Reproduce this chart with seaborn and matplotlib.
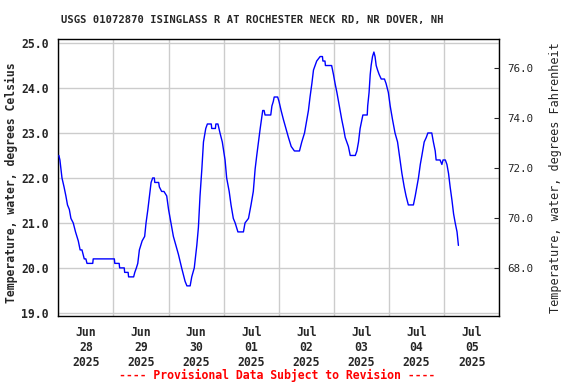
import numpy as np
import pandas as pd
import matplotlib
matplotlib.use("Agg")
import matplotlib.pyplot as plt
import matplotlib.dates as mdates
from matplotlib.ticker import FixedLocator, FormatStrFormatter
import seaborn as sns

# hours since 2025-06-28 00:00 and water temperature (deg C)
hours = [0.25, 0.7, 1.6, 2.5, 3.3, 4.0, 4.8, 5.5, 6.5, 7.5, 8.7, 9.5, 10.3, 11.3, 12.0, 12.5,
         15.0, 15.2, 24.4, 24.6, 26.5, 26.7, 28.7, 28.9, 30.4, 30.6, 32.8, 33.3, 34.0, 34.6,
         35.3, 36.5, 37.6, 38.2, 39.0, 39.7, 40.4, 41.1, 41.8, 42.0, 43.7, 44.0, 45.0, 46.0,
         47.2, 48.0, 48.7, 50.1, 52.3, 53.7, 55.2, 56.0, 57.4, 58.1, 59.2, 60.3, 61.0, 61.7,
         62.5, 63.2, 64.2, 64.9, 66.6, 66.8, 68.4, 68.6, 69.5, 70.4, 71.4, 72.6, 73.3, 74.4,
         75.2, 76.2, 77.0, 78.2, 80.6, 81.3, 82.8, 83.9, 84.9, 85.7, 86.4, 87.9, 89.0, 89.6,
         90.0, 92.5, 93.0, 93.6, 94.0, 95.5, 96.1, 97.0, 98.0, 99.1, 100.2, 101.4, 102.8, 105.0,
         106.0, 107.2, 108.2, 108.9, 109.6, 110.4, 111.1, 111.8, 112.5, 114.0, 115.0, 115.2,
         116.1, 116.3, 119.0, 119.8, 120.5, 121.3, 122.0, 122.7, 123.4, 124.2, 124.9, 125.6,
         126.3, 127.1, 129.3, 130.0, 130.7, 131.4, 132.2, 132.6, 134.5, 134.7, 135.3, 135.8,
         136.2, 136.8, 137.4, 137.9, 138.4, 139.0, 139.7, 140.6, 142.0, 142.7, 143.7, 144.5,
         145.5, 146.6, 147.7, 148.5, 149.6, 150.6, 151.4, 152.4, 154.6, 155.4, 156.1, 156.8,
         157.6, 158.3, 159.3, 160.2, 160.9, 162.6, 163.3, 164.1, 164.5, 166.2, 167.0, 167.5,
         168.5, 169.2, 169.9, 170.6, 171.4, 172.1, 172.8, 173.6, 174.2]
temps = [22.5, 22.4, 22.0, 21.8, 21.6, 21.4, 21.3, 21.1, 21.0, 20.8, 20.6, 20.4, 20.4, 20.2, 20.2, 20.1,
         20.1, 20.2, 20.2, 20.1, 20.1, 20.0, 20.0, 19.9, 19.9, 19.8, 19.8, 19.9, 20.0, 20.1,
         20.4, 20.6, 20.7, 21.0, 21.3, 21.6, 21.9, 22.0, 22.0, 21.9, 21.9, 21.8, 21.7, 21.7,
         21.6, 21.3, 21.1, 20.7, 20.3, 20.0, 19.7, 19.6, 19.6, 19.8, 20.0, 20.5, 20.9, 21.6,
         22.2, 22.8, 23.1, 23.2, 23.2, 23.1, 23.1, 23.2, 23.2, 23.0, 22.8, 22.4, 22.0, 21.7,
         21.4, 21.1, 21.0, 20.8, 20.8, 21.0, 21.1, 21.4, 21.7, 22.2, 22.5, 23.1, 23.5, 23.5,
         23.4, 23.4, 23.6, 23.7, 23.8, 23.8, 23.7, 23.5, 23.3, 23.1, 22.9, 22.7, 22.6, 22.6,
         22.8, 23.0, 23.3, 23.5, 23.8, 24.1, 24.4, 24.5, 24.6, 24.7, 24.7, 24.6,
         24.6, 24.5, 24.5, 24.3, 24.1, 23.9, 23.7, 23.5, 23.3, 23.1, 22.9, 22.8,
         22.7, 22.5, 22.5, 22.6, 22.8, 23.1, 23.3, 23.4, 23.4, 23.6, 23.9, 24.3,
         24.5, 24.7, 24.8, 24.7, 24.5, 24.4, 24.3, 24.2, 24.2, 24.1, 23.9, 23.6,
         23.3, 23.0, 22.8, 22.5, 22.1, 21.8, 21.6, 21.4, 21.4, 21.6, 21.8, 22.0,
         22.3, 22.5, 22.8, 22.9, 23.0, 23.0, 22.8, 22.6, 22.4, 22.4, 22.3, 22.4,
         22.4, 22.3, 22.1, 21.8, 21.5, 21.2, 21.0, 20.8, 20.5]

c_ticks = [19.0, 20.0, 21.0, 22.0, 23.0, 24.0, 25.0]
f_ticks = [68.0, 70.0, 72.0, 74.0, 76.0]

title = "USGS 01072870 ISINGLASS R AT ROCHESTER NECK RD, NR DOVER, NH"
footer = "---- Provisional Data Subject to Revision ----"

start = pd.Timestamp("2025-06-28 00:00")
df = pd.DataFrame({"time": start + pd.to_timedelta(hours, unit="h"), "temp": temps})

sns.set_style("white")
plt.rcParams['font.family'] = ['DejaVu Sans Mono', 'DejaVu Sans']

fig = plt.figure(figsize=(5.76, 3.84), dpi=100)
ax = fig.add_axes([58.3 / 576, 1 - 316 / 384, (499.3 - 58.3) / 576, (316 - 39) / 384])

sns.lineplot(data=df, x="time", y="temp", color="#0000ff", lw=1.0, ax=ax, zorder=3)

ymin, ymax = 18.93, 25.09
ax.set_ylim(ymin, ymax)
ax.set_xlim(start, start + pd.Timedelta(days=8))

# x: labels at noon, grid at midnight
ax.xaxis.set_major_locator(mdates.HourLocator(byhour=12))
ax.xaxis.set_major_formatter(mdates.DateFormatter("%b\n%d\n%Y"))
ax.xaxis.set_minor_locator(mdates.DayLocator())
ax.tick_params(axis="x", which="both", length=0, pad=7, labelsize=8.3)
ax.grid(True, axis="x", which="minor", color="#cccccc", lw=1)
ax.grid(False, axis="x", which="major")

ax.yaxis.set_major_locator(FixedLocator(c_ticks))
ax.yaxis.set_major_formatter(FormatStrFormatter("%.1f"))
ax.tick_params(axis="y", length=0, pad=7, labelsize=8.3)
ax.grid(True, axis="y", color="#cccccc", lw=1)
for lab in ax.get_xticklabels() + ax.get_yticklabels():
    lab.set_fontweight("bold")
ax.set_xlabel("")
ax.set_ylabel("")

for s in ax.spines.values():
    s.set_color("black")
    s.set_linewidth(1)

ax2 = ax.twinx()
ax2.set_ylim(ymin * 1.8 + 32, ymax * 1.8 + 32)
ax2.yaxis.set_major_locator(FixedLocator(f_ticks))
ax2.yaxis.set_major_formatter(FormatStrFormatter("%.1f"))
ax2.tick_params(axis="y", direction="in", length=3.5, width=0.8, pad=6, labelsize=7.8)
for s in ax2.spines.values():
    s.set_visible(False)

fig.text(252 / 576, 1 - 20.5 / 384, title, ha="center", va="center",
         fontsize=7.6, fontweight="bold")
fig.text(11.7 / 576, 1 - 183 / 384, "Temperature, water, degrees Celsius",
         rotation=90, ha="center", va="center", fontsize=8.3, fontweight="bold")
fig.text(555 / 576, 1 - 178 / 384, "Temperature, water, degrees Fahrenheit",
         rotation=90, ha="center", va="center", fontsize=8.5)
fig.text(277 / 576, 1 - 375 / 384, footer, ha="center", va="center",
         fontsize=8.3, fontweight="bold", color="red")

fig.savefig("out.png", dpi=100)
